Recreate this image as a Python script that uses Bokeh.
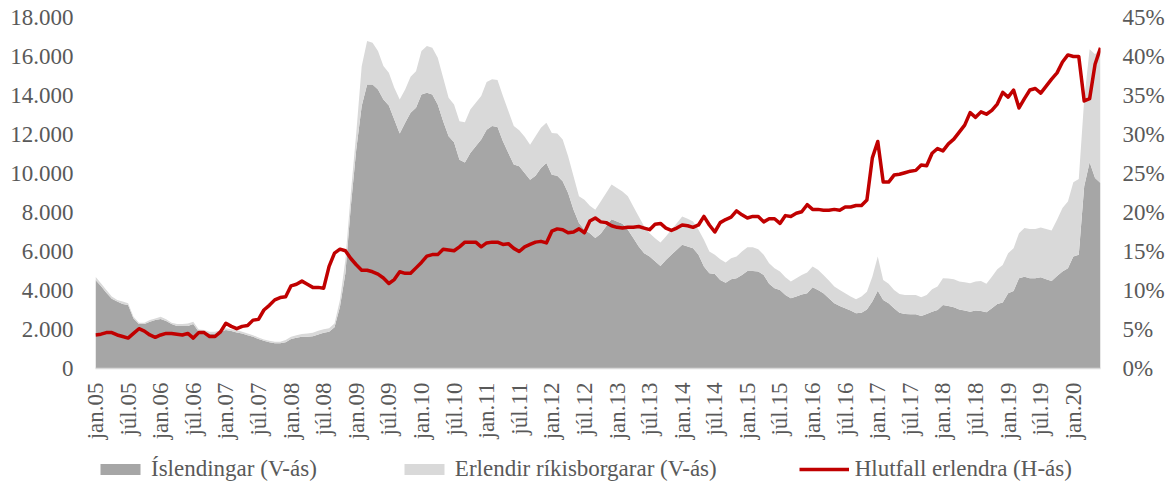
import math
from bokeh.plotting import figure
from bokeh.layouts import column
from bokeh.models import (ColumnDataSource, Range1d, LinearAxis, FixedTicker,
                          Legend, LegendItem)
from bokeh.embed import file_html
from bokeh.resources import INLINE

tick_labels = ["jan.05", "júl.05", "jan.06", "júl.06", "jan.07", "júl.07", "jan.08", "júl.08",
               "jan.09", "júl.09", "jan.10", "júl.10", "jan.11", "júl.11", "jan.12", "júl.12",
               "jan.13", "júl.13", "jan.14", "júl.14", "jan.15", "júl.15", "jan.16", "júl.16",
               "jan.17", "júl.17", "jan.18", "júl.18", "jan.19", "júl.19", "jan.20"]

# Íslendingar (V-ás), monthly Jan 2005 - Jun 2020
islendingar = [
    4540, 4230, 3890, 3580, 3430, 3310, 3260, 2570, 2280, 2280, 2400, 2490,   # 2005
    2540, 2430, 2280, 2180, 2180, 2180, 2280, 1890, 1850, 1800, 1800, 1890,   # 2006
    1970, 1920, 1850, 1800, 1710, 1630, 1510, 1420, 1340, 1290, 1290, 1350,   # 2007
    1510, 1580, 1630, 1630, 1660, 1750, 1830, 1890, 2110, 3170, 4890, 8310,   # 2008
    11230, 13460, 14570, 14570, 14310, 13800, 13490, 12770, 12050, 12600, 13110, 13370,  # 2009
    14050, 14140, 14050, 13540, 12680, 11910, 11600, 10710, 10570, 11050, 11400, 11740,  # 2010
    12250, 12430, 12390, 11650, 11050, 10460, 10370, 10030, 9680, 9890, 10280, 10540,    # 2011
    9940, 9890, 9600, 9000, 8140, 7460, 7110, 6940, 6690, 6910, 7290, 7660,   # 2012
    7540, 7420, 7110, 6690, 6260, 5910, 5750, 5500, 5260, 5570, 5830, 6090,   # 2013
    6340, 6260, 6170, 5830, 5230, 4890, 4850, 4540, 4400, 4580, 4630, 4800,   # 2014
    5000, 5000, 4970, 4800, 4340, 4110, 4030, 3770, 3600, 3690, 3800, 3860,   # 2015
    4170, 4030, 3860, 3600, 3340, 3200, 3090, 2970, 2830, 2860, 3030, 3430,   # 2016
    3990, 3510, 3340, 3090, 2860, 2790, 2780, 2780, 2690, 2790, 2910, 3000,   # 2017
    3260, 3200, 3140, 3030, 2970, 2910, 2970, 2950, 2880, 3090, 3310, 3380,   # 2018
    3860, 3980, 4630, 4710, 4630, 4630, 4680, 4580, 4490, 4750, 4970, 5140,   # 2019
    5740, 5830, 9340, 10580, 9770, 9510,                                      # 2020
]

# Erlendir ríkisborgarar (V-ás)
erlendir = [
    170, 140, 140, 110, 80, 120, 80, 90, 70, 70, 90, 80,
    120, 90, 70, 100, 100, 130, 120, 110, 120, 90, 90, 80,
    90, 90, 120, 90, 90, 80, 80, 70, 80, 80, 80, 110,
    120, 130, 140, 170, 170, 190, 180, 170, 200, 340, 680, 690,
    850, 2040, 2230, 2140, 1970, 1710, 1680, 1630, 1750, 1710, 1850, 1880,
    2230, 2400, 2400, 2400, 2230, 1970, 1940, 1970, 2060, 2230, 2230, 2230,
    2440, 2400, 2400, 2320, 2150, 1970, 1850, 1850, 1800, 2020, 2060, 2060,
    2140, 2160, 2140, 1880, 1720, 1370, 1550, 1410, 1450, 1660, 1710, 1770,
    1720, 1660, 1720, 1620, 1540, 1380, 1190, 1180, 1200, 1200, 1280, 1360,
    1460, 1420, 1370, 1280, 1370, 1110, 980, 1060, 1030, 1080, 1110, 1200,
    1220, 1220, 1150, 1030, 1060, 1030, 940, 910, 860, 940, 1000, 1060,
    1060, 1030, 940, 910, 860, 830, 770, 720, 720, 830, 910, 1280,
    1750, 1030, 1000, 940, 960, 980, 990, 990, 960, 980, 1150, 1200,
    1370, 1410, 1440, 1430, 1450, 1460, 1490, 1540, 1460, 1620, 1780, 1930,
    2050, 2190, 2310, 2490, 2520, 2520, 2550, 2570, 2590, 2880, 3260, 3430,
    3810, 3890, 4460, 5790, 6340, 6940,
]

# Hlutfall erlendra (H-ás), %
hlutfall = [
    4.3, 4.4, 4.6, 4.6, 4.3, 4.1, 3.9, 4.5, 5.1, 4.8, 4.3, 4.0,
    4.3, 4.5, 4.5, 4.4, 4.3, 4.5, 3.9, 4.6, 4.6, 4.1, 4.1, 4.7,
    5.8, 5.4, 5.1, 5.4, 5.5, 6.2, 6.3, 7.5, 8.1, 8.8, 9.1, 9.2,
    10.6, 10.8, 11.2, 10.8, 10.4, 10.4, 10.3, 13.1, 14.8, 15.3, 15.1, 14.1,
    13.3, 12.6, 12.6, 12.4, 12.1, 11.6, 10.9, 11.4, 12.4, 12.2, 12.2, 12.9,
    13.6, 14.4, 14.6, 14.6, 15.3, 15.2, 15.1, 15.6, 16.2, 16.2, 16.2, 15.6,
    16.1, 16.2, 16.2, 15.9, 16.0, 15.4, 15.0, 15.6, 15.9, 16.2, 16.3, 16.1,
    17.6, 17.9, 17.8, 17.4, 17.5, 17.9, 17.4, 18.9, 19.3, 18.8, 18.7, 18.3,
    18.1, 18.0, 18.1, 18.1, 18.2, 18.0, 17.8, 18.5, 18.6, 18.0, 17.7, 18.0,
    18.4, 18.3, 18.1, 18.4, 19.5, 18.4, 17.5, 18.7, 19.1, 19.4, 20.2, 19.7,
    19.3, 19.5, 19.5, 18.8, 19.2, 19.2, 18.6, 19.6, 19.5, 19.9, 20.1, 21.0,
    20.4, 20.4, 20.3, 20.3, 20.4, 20.3, 20.7, 20.7, 20.9, 20.9, 21.6, 27.0,
    29.1, 23.9, 23.9, 24.8, 24.9, 25.1, 25.3, 25.4, 26.1, 26.0, 27.6, 28.2,
    27.9, 28.8, 29.4, 30.3, 31.2, 32.8, 32.2, 32.9, 32.6, 33.1, 33.9, 35.4,
    34.8, 35.7, 33.4, 34.6, 35.7, 35.9, 35.3, 36.2, 37.1, 37.9, 39.3, 40.2,
    40.0, 40.0, 34.3, 34.6, 39.0, 41.1,
]

left_ticks = [0, 2000, 4000, 6000, 8000, 10000, 12000, 14000, 16000, 18000]
right_ticks = [0, 5, 10, 15, 20, 25, 30, 35, 40, 45]
legend_labels = ["Íslendingar (V-ás)", "Erlendir ríkisborgarar (V-ás)", "Hlutfall erlendra (H-ás)"]
colors = ["#a6a6a6", "#d9d9d9", "#c00000"]

n = len(islendingar)
src = ColumnDataSource(dict(x=list(range(n)), isl=islendingar, erl=erlendir, pct=hlutfall))

FONT = "Liberation Serif"
FS = "23px"
TXT = "#595959"

# ---------------- main chart ----------------
p = figure(frame_width=1005, frame_height=351, output_backend="svg", toolbar_location=None,
           x_range=Range1d(0, n - 1), y_range=Range1d(0, 18000),
           min_border_left=95, min_border_right=65, min_border_top=17, min_border_bottom=80)
p.extra_y_ranges = {"pct": Range1d(0, 45)}
p.outline_line_color = None
p.xgrid.visible = False
p.ygrid.visible = False

p.varea_stack(["isl", "erl"], x="x", source=src, color=colors[:2])
p.line("x", "pct", source=src, y_range_name="pct", color=colors[2],
       line_width=3.5, line_join="round")

xa = p.xaxis[0]
xa.ticker = FixedTicker(ticks=[6 * k for k in range(len(tick_labels))])
xa.major_label_overrides = {6 * k: lbl for k, lbl in enumerate(tick_labels)}
xa.major_label_orientation = math.pi / 2
xa.axis_line_color = "#d9d9d9"
xa.axis_line_width = 1.5
xa.major_tick_line_color = None
xa.minor_tick_line_color = None
xa.major_tick_out = 0
xa.major_tick_in = 0
xa.minor_tick_out = 0
xa.minor_tick_in = 0
xa.major_label_standoff = 14

ya = p.yaxis[0]
ya.ticker = FixedTicker(ticks=left_ticks)
ya.major_label_overrides = {v: f"{v:,}".replace(",", ".") for v in left_ticks}

ra = LinearAxis(y_range_name="pct", ticker=FixedTicker(ticks=right_ticks))
ra.major_label_overrides = {v: f"{v}%" for v in right_ticks}
p.add_layout(ra, "right")

for ax in (ya, ra):
    ax.axis_line_color = None
    ax.major_tick_line_color = None
    ax.minor_tick_line_color = None
    ax.major_tick_out = 0
    ax.major_label_standoff = 22

for ax in (xa, ya, ra):
    ax.major_label_text_font = FONT
    ax.major_label_text_font_size = FS
    ax.major_label_text_color = TXT

# ---------------- legend strip ----------------
# same series, drawn outside this strip's x range, so only the legend keys show
lf = figure(width=1165, height=38, output_backend="svg", toolbar_location=None,
            x_axis_type=None, y_axis_type=None, min_border=0,
            x_range=Range1d(n + 1000, n + 1001), y_range=Range1d(0, 1))
lf.outline_line_color = None
lf.xgrid.visible = False
lf.ygrid.visible = False
la = lf.varea_stack(["isl", "erl"], x="x", source=src, color=colors[:2])
ll = lf.line("x", "pct", source=src, color=colors[2], line_width=3.5)

legend = Legend(items=[
    LegendItem(label=legend_labels[0], renderers=[la[0]]),
    LegendItem(label=legend_labels[1], renderers=[la[1]]),
    LegendItem(label=legend_labels[2], renderers=[ll]),
], orientation="horizontal", location=(0, 4))
legend.label_text_font = FONT
legend.label_text_font_size = FS
legend.label_text_color = TXT
legend.glyph_width = 50
legend.glyph_height = 14
legend.label_height = 26
legend.label_standoff = 6
legend.spacing = 82
legend.padding = 0
legend.margin = 0
legend.border_line_color = None
legend.background_fill_alpha = 0
lf.add_layout(legend, "center")

layout = column(p, lf, spacing=0)
open("out.html", "w").write(file_html(layout, INLINE))
